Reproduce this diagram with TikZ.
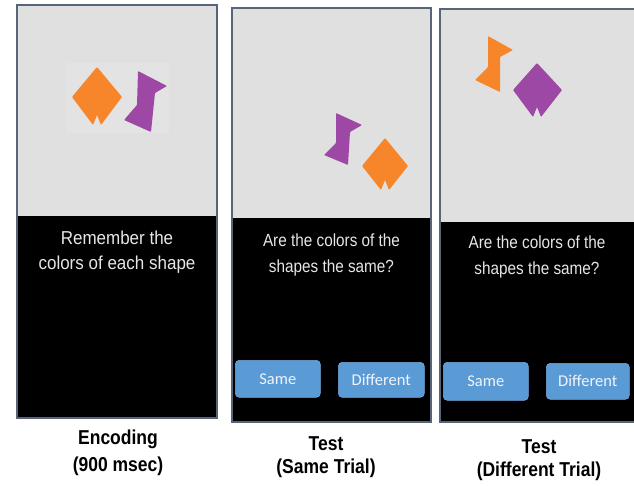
\documentclass[tikz,border=0pt]{standalone}
\usepackage{graphicx}
\usepackage{fontspec}
\setmainfont{Liberation Sans}
\newfontfamily\btnfont{Carlito}
\definecolor{screengray}{HTML}{E0E0E0}
\definecolor{framecol}{HTML}{56657A}
\definecolor{shapeorange}{HTML}{F7862A}
\definecolor{shapepurple}{HTML}{9E48A6}
\definecolor{btnblue}{HTML}{5B9BD5}
\definecolor{btntext}{HTML}{EEF4FC}
\definecolor{msgtext}{HTML}{E6E6E6}
% taller-than-wide lettering used for the screen messages and captions
\newcommand{\tallText}[2]{\scalebox{1}[#1]{#2}}
\begin{document}
\begin{tikzpicture}[x=1pt,y=-1pt,
  screentop/.style={fill=screengray},
  screenbottom/.style={fill=black},
  frame/.style={draw=framecol, line width=1.1pt},
  orangeshape/.style={fill=shapeorange, rounded corners=0.8pt},
  purpleshape/.style={fill=shapepurple, rounded corners=0.8pt},
  msg/.style={text=msgtext, align=center},
  msgfont/.style={font=\fontsize{17}{26}\selectfont},
  msgfontsmall/.style={font=\fontsize{15.3}{24}\selectfont},
  btn/.style={fill=btnblue, draw=btnblue!85!white, rounded corners=4pt, line width=0.6pt,
    text=btntext, font=\btnfont\fontsize{16.5}{18}\selectfont, anchor=north west, inner sep=0pt},
  caption/.style={align=center, font=\bfseries\fontsize{17.5}{23}\selectfont}
]
\useasboundingbox[fill=white] (0,0) rectangle (634,486);

% ---- Encoding screen ----
\fill[screentop] (17,5) rectangle (217,216);
\fill[screenbottom] (17,216) rectangle (217,418);
\fill[white!10!screengray] (66,63) rectangle (169,133);
\draw[frame] (17,5) rectangle (217,418);
\fill[orangeshape] (97,67) -- (122,97) -- (101,125) -- (97,115) -- (93,125) -- (72,97) -- cycle;
\fill[purpleshape] (138,71) -- (167,86) -- (155,93) -- (151,132) -- (124,120) -- (137,105) -- cycle;
\node[msg, msgfont] (encmsg) at (117,252.5) {\tallText{1.1}{\shortstack{Remember the\\[7pt]colors of each shape}}};

% ---- Test screen, same trial ----
\fill[screentop] (232,8) rectangle (431,218);
\fill[screenbottom] (232,218) rectangle (431,422);
\draw[frame] (232,8) rectangle (431,422);
\fill[purpleshape] (336,113) -- (362,125) -- (350,132) -- (348,165) -- (324,155) -- (336,143) -- cycle;
\fill[orangeshape] (385,138) -- (408,166) -- (389,190) -- (385,180) -- (381,190) -- (362,166) -- cycle;
\node[msg, msgfontsmall] (samemsg) at (331.5,255) {\tallText{1.15}{\shortstack{Are the colors of the\\[8.5pt]shapes the same?}}};
\node[btn, minimum width=85pt, minimum height=37pt] (samebtnA) at (235,360) {Same};
\node[btn, minimum width=86pt, minimum height=35pt] (diffbtnA) at (338,362) {Different};

% ---- Test screen, different trial ----
\fill[screentop] (440,9) rectangle (634,222);
\fill[screenbottom] (440,222) rectangle (634,422);
\draw[frame] (634,9) -- (440,9) -- (440,422) -- (634,422);
\fill[orangeshape] (488,36) -- (513,50) -- (500,57) -- (500,92) -- (475,80) -- (488,67) -- cycle;
\fill[purpleshape] (537,63) -- (562,90) -- (541,117) -- (537,107) -- (533,117) -- (513,90) -- cycle;
\node[msg, msgfontsmall] (diffmsg) at (537,257) {\tallText{1.15}{\shortstack{Are the colors of the\\[8.5pt]shapes the same?}}};
\node[btn, minimum width=85pt, minimum height=38pt] (samebtnB) at (443,362) {Same};
\node[btn, minimum width=83pt, minimum height=36pt] (diffbtnB) at (546,363) {Different};

% ---- Captions ----
\node[caption] (enccap) at (118,453) {\tallText{1.15}{\shortstack{Encoding\\[4pt](900 msec)}}};
\node[caption] (samecap) at (326,457) {\tallText{1.15}{\shortstack{Test\\[4pt](Same Trial)}}};
\node[caption] (diffcap) at (539,460.5) {\tallText{1.15}{\shortstack{Test\\[4pt](Different Trial)}}};
\end{tikzpicture}
\end{document}
